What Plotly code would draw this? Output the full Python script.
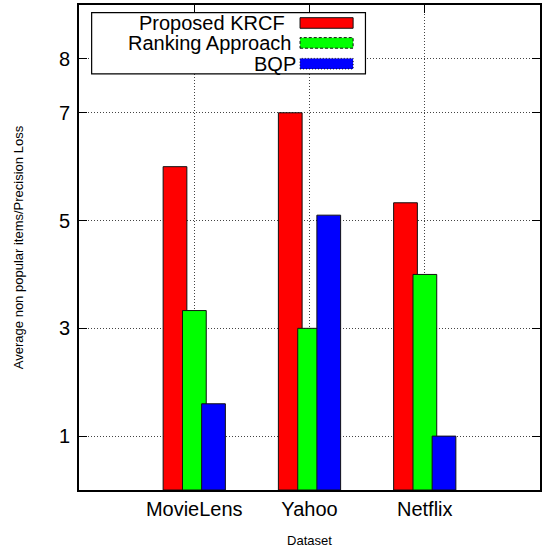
import plotly.graph_objects as go

# ---- data ----
categories = ["MovieLens", "Yahoo", "Netflix"]
series_names = ["Proposed KRCF", "Ranking Approach", "BQP"]
krcf = [6.0, 7.0, 5.33]
ranking = [3.33, 3.0, 4.0]
bqp = [1.6, 5.1, 1.0]
y_ticks = [1, 3, 5, 7, 8]

# ---- style ----
colors = ["#ff0000", "#00ff00", "#0000ff"]
offsets = [-0.27, -0.102, 0.064]
bar_w = 0.206
dashes = ["solid", "3px,2px", "1px,2px"]
FONT = "Liberation Sans, Arial, Helvetica, sans-serif"

W, H = 545, 549
ML, MR, MT, MB = 79, 3, 5, 58
PW, PH = W - ML - MR, H - MT - MB


def px_x(px):
    return (px - ML) / PW


def px_y(py):
    return (H - MB - py) / PH


fig = go.Figure()
for name, vals, col, off in zip(series_names, [krcf, ranking, bqp], colors, offsets):
    fig.add_trace(go.Bar(
        x=categories, y=vals, name=name, offset=off, width=bar_w,
        marker=dict(color=col, opacity=1, line=dict(color="#111111", width=1)),
        showlegend=False,
    ))

# manual legend (text right-justified, swatch on the right, as in gnuplot)
shapes = [dict(type="rect", xref="paper", yref="paper",
               x0=px_x(91.7), x1=px_x(366.7), y0=px_y(74), y1=px_y(12.7),
               line=dict(color="black", width=1.2), fillcolor="white", layer="above")]
annotations = []
row_y = [23, 43, 63.8]
text_right = [286.7, 293.3, 298]
for name, col, dsh, ry, tr in zip(series_names, colors, dashes, row_y, text_right):
    shapes.append(dict(type="rect", xref="paper", yref="paper",
                       x0=px_x(301), x1=px_x(354.3), y0=px_y(ry + 5.3), y1=px_y(ry - 5.3),
                       line=dict(color="#111111", width=1, dash=dsh), fillcolor=col, layer="above"))
    annotations.append(dict(xref="paper", yref="paper", x=px_x(tr), y=px_y(ry),
                            xanchor="right", yanchor="middle", text=name, showarrow=False,
                            font=dict(family=FONT, size=20, color="black"), borderpad=0))

fig.update_layout(
    width=W, height=H,
    margin=dict(l=ML, r=MR, t=MT, b=MB, pad=0),
    paper_bgcolor="white", plot_bgcolor="white",
    barmode="overlay",
    font=dict(family=FONT, color="black"),
    shapes=shapes, annotations=annotations,
    showlegend=False,
)
fig.update_xaxes(
    type="category", range=[-1, 3],
    showline=True, linecolor="black", linewidth=2, mirror="allticks",
    ticks="inside", ticklen=8, tickwidth=1, tickcolor="black",
    showgrid=True, gridcolor="#444444", gridwidth=1, griddash="1px,2px",
    tickfont=dict(size=20), zeroline=False, layer="below traces",
    title=dict(text="Dataset", font=dict(size=13), standoff=17),
)
fig.update_yaxes(
    range=[0, 9], tickvals=y_ticks,
    showline=True, linecolor="black", linewidth=2, mirror="allticks",
    ticks="inside", ticklen=8, tickwidth=1, tickcolor="black",
    showgrid=True, gridcolor="#444444", gridwidth=1, griddash="1px,2px",
    tickfont=dict(size=20), zeroline=False, ticklabelstandoff=3,
    title=dict(text="Average non popular items/Precision Loss", font=dict(size=13), standoff=32),
)

fig.write_html("out.html")
